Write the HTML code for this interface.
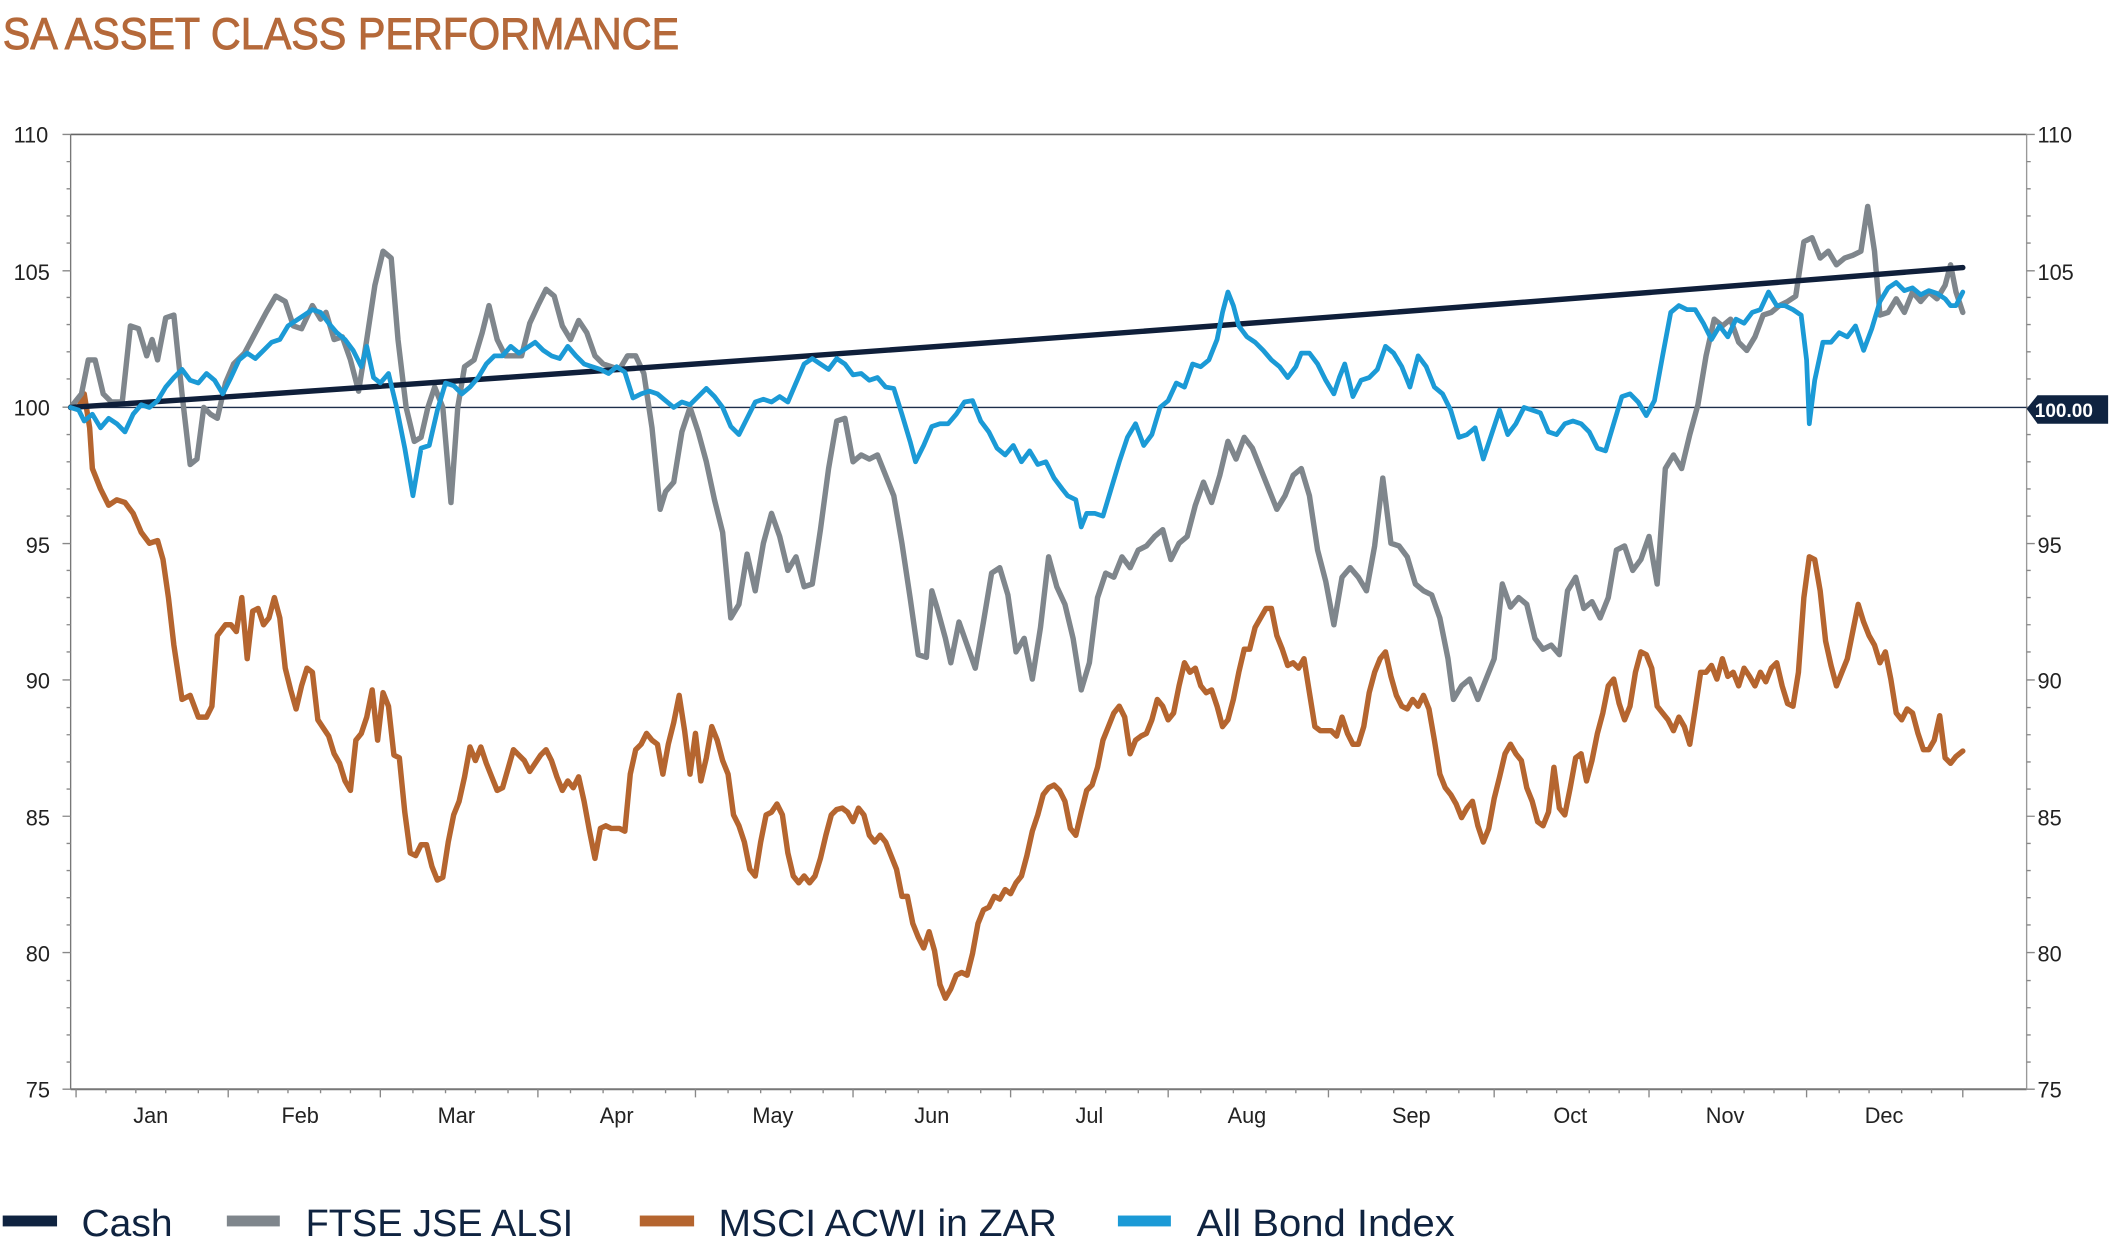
<!DOCTYPE html>
<html><head><meta charset="utf-8"><style>
html,body{margin:0;padding:0;background:#fff;}
svg{display:block;}
text{font-family:"Liberation Sans",sans-serif;}
</style></head><body>
<svg width="2119" height="1259" viewBox="0 0 1560 927" preserveAspectRatio="none" xmlns="http://www.w3.org/2000/svg">
<text x="2" y="36" font-size="33" fill="#b5693a" stroke="#b5693a" stroke-width="0.7" textLength="498" lengthAdjust="spacingAndGlyphs">SA ASSET CLASS PERFORMANCE</text>
<line x1="52" y1="99" x2="1492" y2="99" stroke="#666" stroke-width="1.2"/>
<line x1="52" y1="802" x2="1492" y2="802" stroke="#777" stroke-width="1.5"/>
<line x1="52" y1="99" x2="52" y2="802" stroke="#777" stroke-width="1"/>
<line x1="1492" y1="99" x2="1492" y2="802" stroke="#999" stroke-width="1"/>
<line x1="52" y1="300" x2="1492" y2="300" stroke="#1d2e4a" stroke-width="1"/>
<g stroke="#888" stroke-width="1">
<path d="M46 99h6M46 199.4h6M46 299.8h6M46 400.2h6M46 500.6h6M46 601h6M46 701.4h6M46 802h6M1492 99h6M1492 199.4h6M1492 299.8h6M1492 400.2h6M1492 500.6h6M1492 601h6M1492 701.4h6M1492 802h6"/>
<path d="M49 119h3M49 139h3M49 159h3M49 179h3M49 219h3M49 239h3M49 259h3M49 279h3M49 320h3M49 340h3M49 360h3M49 380h3M49 420h3M49 440h3M49 460h3M49 480h3M49 521h3M49 541h3M49 561h3M49 581h3M49 621h3M49 641h3M49 661h3M49 681h3M49 722h3M49 742h3M49 762h3M49 782h3M1492 119h3M1492 139h3M1492 159h3M1492 179h3M1492 219h3M1492 239h3M1492 259h3M1492 279h3M1492 320h3M1492 340h3M1492 360h3M1492 380h3M1492 420h3M1492 440h3M1492 460h3M1492 480h3M1492 521h3M1492 541h3M1492 561h3M1492 581h3M1492 621h3M1492 641h3M1492 661h3M1492 681h3M1492 722h3M1492 742h3M1492 762h3M1492 782h3"/>
<path d="M56 802v6M168 802v6M280 802v6M396 802v6M512 802v6M628 802v6M744 802v6M860 802v6M978 802v6M1100 802v6M1214 802v6M1330 802v6M1445 802v6"/>
<path d="M78 802v3M100 802v3M122 802v3M146 802v3M190 802v3M212 802v3M236 802v3M258 802v3M304 802v3M328 802v3M350 802v3M374 802v3M420 802v3M444 802v3M466 802v3M490 802v3M536 802v3M560 802v3M582 802v3M606 802v3M652 802v3M676 802v3M698 802v3M722 802v3M768 802v3M792 802v3M814 802v3M838 802v3M884 802v3M908 802v3M932 802v3M954 802v3M1002 802v3M1026 802v3M1050 802v3M1074 802v3M1124 802v3M1146 802v3M1170 802v3M1192 802v3M1238 802v3M1260 802v3M1284 802v3M1306 802v3M1354 802v3M1376 802v3M1400 802v3M1422 802v3"/>
</g>
<g font-size="16" fill="#222">
<text x="10" y="105">110</text><text x="10" y="206">105</text><text x="10" y="306">100</text>
<text x="19" y="407">95</text><text x="19" y="507">90</text><text x="19" y="608">85</text><text x="19" y="708">80</text><text x="19" y="808">75</text>
<text x="1500" y="105">110</text><text x="1500" y="206">105</text>
<text x="1500" y="407">95</text><text x="1500" y="507">90</text><text x="1500" y="608">85</text><text x="1500" y="708">80</text><text x="1500" y="808">75</text>
</g>
<g font-size="16" fill="#222" text-anchor="middle">
<text x="111" y="827">Jan</text><text x="221" y="827">Feb</text><text x="336" y="827">Mar</text><text x="454" y="827">Apr</text>
<text x="569" y="827">May</text><text x="686" y="827">Jun</text><text x="802" y="827">Jul</text><text x="918" y="827">Aug</text>
<text x="1039" y="827">Sep</text><text x="1156" y="827">Oct</text><text x="1270" y="827">Nov</text><text x="1387" y="827">Dec</text>
</g>
<path d="M1492 301 L1500 291 H1552 V312 H1500 Z" fill="#0f2340"/>
<text x="1498" y="307" font-size="14" font-weight="bold" fill="#fff">100.00</text>
<g fill="none" stroke-linejoin="round" stroke-linecap="round">
<polyline stroke="#b5652f" stroke-width="4" points="52,300 58,300 62,290 66,315 68,345 74,360 80,372 86,368 92,370 98,378 104,392 110,400 116,398 120,412 124,440 128,475 134,515 140,512 146,528 152,528 156,520 160,468 166,460 170,460 174,465 178,440 182,485 186,450 190,448 194,460 198,455 202,440 206,455 210,492 214,508 218,522 222,505 226,492 230,495 234,530 238,536 242,542 246,555 250,562 254,575 258,582 262,545 266,540 270,528 274,508 278,545 282,510 286,520 290,556 294,558 298,598 302,628 306,630 310,622 314,622 318,638 322,648 326,646 330,620 334,600 338,590 342,572 346,550 350,560 354,550 358,562 362,572 366,582 370,580 374,566 378,552 382,556 386,560 390,568 394,562 398,556 402,552 406,560 410,572 414,582 418,575 422,580 426,572 430,590 434,612 438,632 442,610 446,608 450,610 456,610 460,612 464,570 468,552 472,548 476,540 480,545 484,548 488,570 492,548 496,532 500,512 504,538 508,570 512,540 516,575 520,558 524,535 528,545 532,560 536,570 540,600 544,608 548,620 552,640 556,645 560,620 564,600 568,598 572,592 576,600 580,628 584,645 588,650 592,645 596,650 600,645 604,632 608,615 612,600 616,596 620,595 624,598 628,605 632,595 636,600 640,615 644,620 648,615 652,620 656,630 660,640 664,660 668,660 672,680 676,690 680,698 684,686 688,700 692,725 696,735 700,728 704,718 708,716 712,718 716,702 720,680 724,670 728,668 732,660 736,662 740,655 744,658 748,650 752,645 756,630 760,612 764,600 768,585 772,580 776,578 780,582 784,590 788,610 792,615 796,598 800,582 804,578 808,565 812,545 816,535 820,525 824,520 828,528 832,555 836,545 840,542 844,540 848,530 852,515 856,520 860,530 864,525 868,505 872,488 876,495 880,492 884,505 888,510 892,508 896,520 900,535 904,530 908,515 912,495 916,478 920,478 924,462 928,455 932,448 936,448 940,468 944,478 948,490 952,488 956,492 960,485 964,510 968,535 972,538 976,538 980,538 984,542 988,528 992,540 996,548 1000,548 1004,535 1008,510 1012,495 1016,485 1020,480 1024,498 1028,512 1032,520 1036,522 1040,515 1044,520 1048,512 1052,522 1056,545 1060,570 1064,580 1068,585 1072,592 1076,602 1080,595 1084,590 1088,608 1092,620 1096,610 1100,588 1104,572 1108,555 1112,548 1116,555 1120,560 1124,580 1128,590 1132,605 1136,608 1140,598 1144,565 1148,595 1152,600 1156,580 1160,558 1164,555 1168,575 1172,560 1176,540 1180,525 1184,505 1188,500 1192,518 1196,530 1200,520 1204,495 1208,480 1212,482 1216,492 1220,520 1224,525 1228,530 1232,538 1236,528 1240,535 1244,548 1248,522 1252,495 1256,495 1260,490 1264,500 1268,485 1272,498 1276,495 1280,505 1284,492 1288,498 1292,505 1296,495 1300,502 1304,492 1308,488 1312,505 1316,518 1320,520 1324,495 1328,440 1332,410 1336,412 1340,435 1344,472 1348,490 1352,505 1356,495 1360,485 1364,465 1368,445 1372,458 1376,468 1380,475 1384,488 1388,480 1392,500 1396,525 1400,530 1404,522 1408,525 1412,540 1416,552 1420,552 1424,545 1428,527 1432,558 1436,562 1440,557 1445,553"/>
<polyline stroke="#7f868c" stroke-width="4" points="52,300 60,290 65,265 70,265 76,290 82,296 90,296 96,240 102,242 108,262 112,250 116,265 122,234 128,232 134,290 140,342 145,338 150,300 155,305 160,308 166,282 172,268 180,260 188,245 196,230 203,218 210,222 216,240 222,242 230,225 236,235 240,230 246,250 252,248 258,265 264,288 270,250 276,210 282,185 288,190 293,250 299,300 305,325 310,322 315,300 320,285 326,300 332,370 337,300 342,270 349,265 355,245 360,225 366,250 372,262 378,262 384,262 390,238 396,225 402,213 408,218 414,240 420,250 426,236 432,245 438,262 444,268 450,270 456,272 462,262 468,262 474,275 480,315 486,375 490,362 496,355 502,318 508,300 514,318 520,340 526,368 532,392 538,455 544,445 550,408 556,435 562,400 568,378 574,395 580,420 586,410 592,432 598,430 604,390 610,345 616,310 622,308 628,340 634,335 640,338 646,335 652,350 658,365 664,400 670,440 676,482 682,484 686,435 690,448 696,470 700,488 706,458 712,475 718,492 724,458 730,422 736,418 742,438 748,480 754,470 760,500 766,462 772,410 778,432 784,445 790,470 796,508 802,488 808,440 814,422 820,425 826,410 832,418 838,405 844,402 850,395 856,390 862,412 868,400 874,395 880,372 886,355 892,370 898,350 904,325 910,338 916,322 922,330 928,345 934,360 940,375 946,365 952,350 958,345 964,365 970,405 976,428 982,460 988,425 994,418 1000,425 1006,435 1012,402 1018,352 1024,400 1030,402 1036,410 1042,430 1048,435 1054,438 1060,455 1066,485 1070,515 1076,505 1082,500 1088,515 1094,500 1100,485 1106,430 1112,447 1118,440 1124,445 1130,470 1136,478 1142,475 1148,482 1154,435 1160,425 1166,448 1172,443 1178,455 1184,440 1190,405 1196,402 1202,420 1208,412 1214,395 1220,430 1226,345 1232,335 1238,345 1244,320 1250,298 1256,262 1262,235 1268,240 1274,235 1280,252 1286,258 1292,248 1298,232 1304,230 1310,225 1316,222 1322,218 1328,178 1334,175 1340,190 1346,185 1352,195 1358,190 1364,188 1370,185 1375,152 1380,185 1384,232 1390,230 1396,220 1402,230 1408,215 1414,222 1420,215 1426,220 1432,210 1436,195 1440,215 1445,230"/>
<path stroke="#0f1f3a" stroke-width="4" d="M52,300 Q750,253 1445,197"/>
<polyline stroke="#1b9ad6" stroke-width="3.5" points="52,300 58,302 62,310 68,305 74,315 80,308 86,312 92,318 98,305 104,298 110,300 116,295 122,285 128,278 134,272 140,280 146,282 152,275 158,280 164,290 170,278 176,265 182,260 188,264 194,258 200,252 206,250 212,240 218,236 224,232 230,228 236,230 242,238 248,245 254,250 260,258 266,270 270,255 275,278 280,282 286,275 292,300 298,330 304,365 310,330 316,328 322,302 328,282 334,284 340,290 346,285 352,278 358,268 364,262 370,262 376,255 382,260 388,256 394,252 400,258 406,262 412,264 418,255 424,262 430,268 436,270 442,272 448,275 454,270 460,274 466,293 472,290 478,288 484,290 490,295 496,300 502,296 508,298 514,292 520,286 526,292 532,300 538,314 544,320 550,308 556,296 562,294 568,296 574,292 580,296 586,282 592,268 598,264 604,268 610,272 616,264 622,268 628,276 634,275 640,280 646,278 652,285 658,286 664,305 670,325 674,340 680,328 686,314 692,312 698,312 704,305 710,296 716,295 722,310 728,318 734,330 740,335 746,328 752,340 758,332 764,342 770,340 776,352 782,360 786,365 792,368 796,388 800,378 806,378 812,380 818,360 824,340 830,322 836,312 842,328 848,320 854,300 860,295 866,282 872,285 878,268 884,270 890,265 896,250 900,230 904,215 908,225 912,240 918,248 924,252 930,258 936,265 942,270 948,278 954,270 958,260 964,260 970,268 976,280 982,290 986,278 990,268 996,292 1002,280 1008,278 1014,272 1020,255 1026,260 1032,270 1038,285 1044,262 1050,270 1056,285 1062,290 1068,302 1074,322 1080,320 1086,315 1092,338 1098,320 1104,302 1110,320 1116,312 1122,300 1128,302 1134,304 1140,318 1146,320 1152,312 1158,310 1164,312 1170,318 1176,330 1182,332 1188,312 1194,292 1200,290 1206,296 1212,306 1218,295 1224,262 1230,230 1236,225 1242,228 1248,228 1254,238 1260,250 1266,240 1272,248 1278,235 1284,238 1290,230 1296,228 1302,215 1308,225 1314,225 1320,228 1326,232 1330,265 1332,312 1336,280 1342,252 1348,252 1354,245 1360,248 1366,240 1372,258 1378,242 1384,222 1390,212 1396,208 1402,214 1408,212 1414,217 1420,214 1426,216 1432,220 1436,225 1440,225 1445,215"/>
</g>
<rect x="2" y="895" width="40" height="8" fill="#0f2340"/>
<text x="60" y="910" font-size="28" fill="#0f2340" textLength="67" lengthAdjust="spacingAndGlyphs">Cash</text>
<rect x="167" y="895" width="39" height="8" fill="#7f868c"/>
<text x="225" y="910" font-size="28" fill="#0f2340" textLength="197" lengthAdjust="spacingAndGlyphs">FTSE JSE ALSI</text>
<rect x="471" y="895" width="40" height="8" fill="#b5652f"/>
<text x="529" y="910" font-size="28" fill="#0f2340" textLength="249" lengthAdjust="spacingAndGlyphs">MSCI ACWI in ZAR</text>
<rect x="823" y="895" width="39" height="8" fill="#1b9ad6"/>
<text x="881" y="910" font-size="28" fill="#0f2340" textLength="190" lengthAdjust="spacingAndGlyphs">All Bond Index</text>
</svg>
</body></html>
